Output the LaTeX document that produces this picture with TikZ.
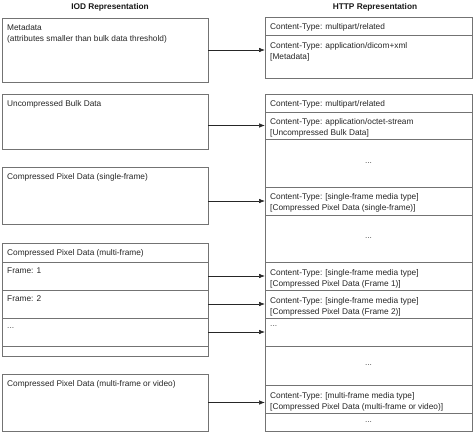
\documentclass[tikz,border=0pt]{standalone}
\usepackage{fontspec}
\setmainfont{Liberation Sans}
\usetikzlibrary{arrows.meta,shadows}
\begin{document}
\begin{tikzpicture}[x=1pt,y=-1pt,
  frame/.style={draw=black!55, line width=0.7pt, fill=white, inner sep=0pt, outer sep=0pt, anchor=north west,
    drop shadow={shadow xshift=0.9pt, shadow yshift=-0.9pt, opacity=1, fill=black!80}},
  row/.style={draw=black!55, line width=0.7pt, inner sep=0pt, outer sep=0pt, anchor=north west},
  txt/.style={font=\fontsize{8.3}{11.5}\selectfont, text=black!85, inner sep=0pt, align=left, anchor=north west},
  dots/.style={font=\fontsize{8.3}{11.5}\selectfont, text=black!70, inner sep=0pt},
  head/.style={font=\fontsize{8.3}{10}\selectfont\bfseries, text=black!90, inner sep=0pt},
  arr/.style={draw=black!85, line width=0.6pt, -{Latex[length=6pt,width=4.5pt]}}]
\useasboundingbox (0,0) rectangle (474,433);
\newcommand\mkbox[6]{\node[#1, minimum width=#5pt, minimum height=#6pt] (#2) at (#3,#4) {};}
% headers
\node[head] (hiod) at (110,7) {IOD Representation};
\node[head] (hhttp) at (375,7) {HTTP Representation};
% ---------- left column ----------
\mkbox{frame}{l1}{2}{18}{206}{64}
\mkbox{frame}{l2}{2}{94}{206}{55}
\mkbox{frame}{l3}{2}{167}{206}{57}
\mkbox{frame}{l4}{2}{243}{206}{113}
\mkbox{row}{f0}{2}{243}{206}{19}
\mkbox{row}{f1}{2}{262}{206}{28}
\mkbox{row}{f2}{2}{290}{206}{28}
\mkbox{row}{f3}{2}{318}{206}{28}
\mkbox{row}{f4}{2}{346}{206}{10}
\mkbox{frame}{l5}{2}{374}{206}{57}
\node[txt] (tl1) at (7,24) {Metadata\\(attributes smaller than bulk data threshold)};
\node[txt] (tl2) at (7,100) {Uncompressed Bulk Data};
\node[txt] (tl3) at (7,173) {Compressed Pixel Data (single-frame)};
\node[txt] (tf0) at (7,249) {Compressed Pixel Data (multi-frame)};
\node[txt] (tf1) at (7,268) {Frame: 1};
\node[txt] (tf2) at (7,296) {Frame: 2};
\node[dots, anchor=south west] (tf3) at (7,329) {...};
\node[txt] (tl5) at (7,380) {Compressed Pixel Data (multi-frame or video)};
% ---------- right column ----------
\mkbox{frame}{ra}{265}{17}{207}{61}
\mkbox{row}{a1}{265}{17}{207}{18}
\mkbox{row}{a2}{265}{35}{207}{43}
\mkbox{frame}{rb}{265}{94}{207}{337}
\mkbox{row}{b1}{265}{94}{207}{18}
\mkbox{row}{b2}{265}{112}{207}{27}
\mkbox{row}{b3}{265}{139}{207}{48}
\mkbox{row}{b4}{265}{187}{207}{28}
\mkbox{row}{b5}{265}{215}{207}{47}
\mkbox{row}{b6}{265}{262}{207}{28}
\mkbox{row}{b7}{265}{290}{207}{28}
\mkbox{row}{b8}{265}{318}{207}{28}
\mkbox{row}{b9}{265}{346}{207}{39}
\mkbox{row}{b10}{265}{385}{207}{28}
\mkbox{row}{b11}{265}{413}{207}{18}
\node[txt] (ta1) at (270,23) {Content-Type: multipart/related};
\node[txt] (ta2) at (270,42) {Content-Type: application/dicom+xml\\{[Metadata]}};
\node[txt] (tb1) at (270,100) {Content-Type: multipart/related};
\node[txt] (tb2) at (270,118) {Content-Type: application/octet-stream\\{[Uncompressed Bulk Data]}};
\node[dots] (tb3) at (b3) {...};
\node[txt] (tb4) at (270,193) {Content-Type: [single-frame media type]\\{[Compressed Pixel Data (single-frame)]}};
\node[dots] (tb5) at (b5) {...};
\node[txt] (tb6) at (270,269) {Content-Type: [single-frame media type]\\{[Compressed Pixel Data (Frame 1)]}};
\node[txt] (tb7) at (270,297) {Content-Type: [single-frame media type]\\{[Compressed Pixel Data (Frame 2)]}};
\node[dots, anchor=south west] (tb8) at (270,327) {...};
\node[dots] (tb9) at (b9) {...};
\node[txt] (tb10) at (270,392) {Content-Type: [multi-frame media type]\\{[Compressed Pixel Data (multi-frame or video)]}};
\node[dots] (tb11) at (b11) {...};
% ---------- connectors ----------
\draw[arr] (l1.east) -- (l1.east -| a2.west);
\draw[arr] (b2.west -| l2.east) -- (b2.west);
\draw[arr] (b4.west -| l3.east) -- (b4.west);
\draw[arr] (f1.east) -- (b6.west);
\draw[arr] (f2.east) -- (b7.west);
\draw[arr] (f3.east) -- (b8.west);
\draw[arr] (l5.east) -- (l5.east -| b10.west);
\end{tikzpicture}
\end{document}
